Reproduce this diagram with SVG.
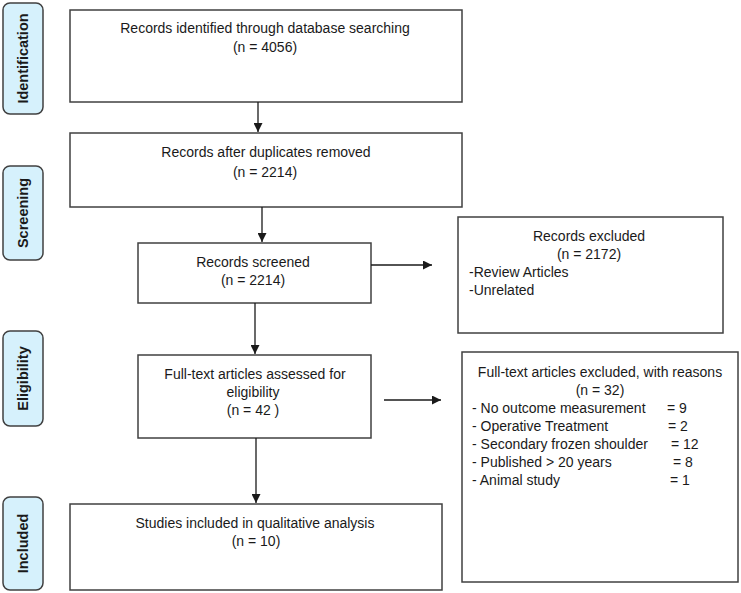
<svg xmlns="http://www.w3.org/2000/svg" width="741" height="593" viewBox="0 0 741 593">
<style>
.box{fill:#fff;stroke:#404040;stroke-width:1.5}
.tab{fill:#d6f1fc;stroke:#404040;stroke-width:1.5}
.t{font-family:"Liberation Sans",Arial,sans-serif;font-size:14px;fill:#1a1a1a}
.c{text-anchor:middle}
.tb{font-family:"Liberation Sans",Arial,sans-serif;font-size:14.5px;font-weight:bold;fill:#1a1a1a;text-anchor:middle}
.ln{stroke:#1a1a1a;stroke-width:1.3;fill:none}
</style>
<defs>
<marker id="ah" viewBox="0 0 10 10" refX="10" refY="5" markerWidth="9" markerHeight="9" markerUnits="userSpaceOnUse" orient="auto">
<path d="M0,0 L10,5 L0,10 Z" fill="#1a1a1a"/>
</marker>
</defs>
<rect width="741" height="593" fill="#fff"/>
<g id="tab-identification"><rect class="tab" x="3" y="3" width="40" height="111" rx="7"/><text class="tb" transform="translate(28,58.5) rotate(-90)">Identification</text></g>
<g id="tab-screening"><rect class="tab" x="3" y="166" width="40" height="94" rx="7"/><text class="tb" transform="translate(28,213) rotate(-90)">Screening</text></g>
<g id="tab-eligibility"><rect class="tab" x="3" y="331" width="40" height="95" rx="7"/><text class="tb" transform="translate(28,378.5) rotate(-90)">Eligibility</text></g>
<g id="tab-included"><rect class="tab" x="3" y="497" width="40" height="93" rx="7"/><text class="tb" transform="translate(28,543.5) rotate(-90)">Included</text></g>
<g id="identified"><rect class="box" x="70" y="10" width="392" height="92"/><text class="t c" x="265" y="33">Records identified through database searching</text><text class="t c" x="265" y="52">(n = 4056)</text></g>
<g id="duplicates"><rect class="box" x="70" y="133" width="392" height="74"/><text class="t c" x="266" y="157">Records after duplicates removed</text><text class="t c" x="265" y="177">(n = 2214)</text></g>
<g id="screened"><rect class="box" x="138" y="243" width="233" height="60"/><text class="t c" x="253" y="267">Records screened</text><text class="t c" x="253" y="285">(n = 2214)</text></g>
<g id="excluded"><rect class="box" x="458" y="217" width="265" height="116"/><text class="t c" x="589" y="241">Records excluded</text><text class="t c" x="589" y="259">(n = 2172)</text><text class="t" x="469" y="277">-Review Articles</text><text class="t" x="469" y="295">-Unrelated</text></g>
<g id="fulltext"><rect class="box" x="138" y="355" width="233" height="83"/><text class="t c" x="255" y="379">Full-text articles assessed for</text><text class="t c" x="253" y="397">eligibility</text><text class="t c" x="253" y="415">(n = 42 )</text></g>
<g id="fulltext-excluded"><rect class="box" x="462" y="352" width="276" height="230"/><text class="t c" x="600" y="377">Full-text articles excluded, with reasons</text><text class="t c" x="600" y="395">(n = 32)</text>
<text class="t" x="472" y="413">- No outcome measurement</text><text class="t" x="667" y="413">= 9</text>
<text class="t" x="472" y="431">- Operative Treatment</text><text class="t" x="668" y="431">= 2</text>
<text class="t" x="472" y="449">- Secondary frozen shoulder</text><text class="t" x="671" y="449">= 12</text>
<text class="t" x="472" y="467">- Published &gt; 20 years</text><text class="t" x="673" y="467">= 8</text>
<text class="t" x="472" y="485">- Animal study</text><text class="t" x="670" y="485">= 1</text></g>
<g id="included"><rect class="box" x="70" y="504" width="372" height="86"/><text class="t c" x="255" y="528">Studies included in qualitative analysis</text><text class="t c" x="256" y="546">(n =  10)</text></g>
<g id="connectors">
<line class="ln" x1="258" y1="102" x2="258" y2="132" marker-end="url(#ah)"/>
<line class="ln" x1="262" y1="207" x2="262" y2="242" marker-end="url(#ah)"/>
<line class="ln" x1="371" y1="265" x2="432" y2="265" marker-end="url(#ah)"/>
<line class="ln" x1="255" y1="303" x2="255" y2="354" marker-end="url(#ah)"/>
<line class="ln" x1="384" y1="400" x2="441" y2="400" marker-end="url(#ah)"/>
<line class="ln" x1="256" y1="438" x2="256" y2="503" marker-end="url(#ah)"/>
</g>
</svg>
